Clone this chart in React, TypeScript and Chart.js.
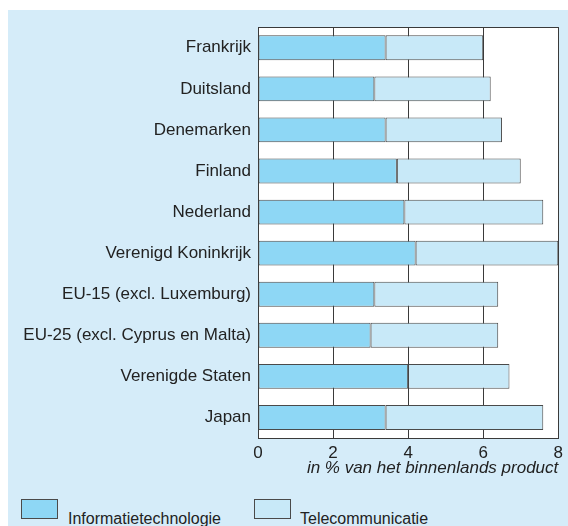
import React, { useEffect, useRef } from "react";
import { Chart, registerables } from "chart.js";

Chart.register(...registerables);

const categories = [
  "Frankrijk",
  "Duitsland",
  "Denemarken",
  "Finland",
  "Nederland",
  "Verenigd Koninkrijk",
  "EU-15 (excl. Luxemburg)",
  "EU-25 (excl. Cyprus en Malta)",
  "Verenigde Staten",
  "Japan",
];
const informatietechnologie = [3.4, 3.1, 3.4, 3.7, 3.9, 4.2, 3.1, 3.0, 4.0, 3.4];
const telecommunicatie = [2.6, 3.1, 3.1, 3.3, 3.7, 3.8, 3.3, 3.4, 2.7, 4.2];
const seriesNames = ["Informatietechnologie", "Telecommunicatie"];
const xTitle = "in % van het binnenlands product";

const IT_COLOR = "#8ed7f5";
const TEL_COLOR = "#c8e9f8";
const PANEL = "#d5ecf9";
const LINE = "#3a3a3a";
const FONT = "'Liberation Sans', Arial, Helvetica, sans-serif";

const framePlugin = {
  id: "frame",
  beforeDraw(chart: any) {
    const { ctx, chartArea: a } = chart;
    ctx.save();
    ctx.fillStyle = "#ffffff";
    ctx.fillRect(a.left, a.top, a.right - a.left, a.bottom - a.top);
    ctx.restore();
  },
  afterDraw(chart: any) {
    const { ctx, chartArea: a } = chart;
    ctx.save();
    ctx.strokeStyle = LINE;
    ctx.lineWidth = 1;
    ctx.beginPath();
    const y = Math.round(a.top) + 0.5;
    ctx.moveTo(a.left, y);
    ctx.lineTo(a.right + 0.5, y);
    ctx.stroke();
    ctx.restore();
  },
};

export default function App() {
  const ref = useRef<HTMLCanvasElement | null>(null);

  useEffect(() => {
    if (!ref.current) return;
    const chart = new Chart(ref.current, {
      type: "bar",
      data: {
        labels: categories,
        datasets: [
          {
            label: seriesNames[0],
            data: informatietechnologie,
            backgroundColor: IT_COLOR,
            borderColor: "#4a4a4a",
            borderWidth: 1,
            borderSkipped: false,
            categoryPercentage: 1,
            barPercentage: 0.605,
          },
          {
            label: seriesNames[1],
            data: telecommunicatie,
            backgroundColor: TEL_COLOR,
            borderColor: "#4a4a4a",
            borderWidth: 1,
            borderSkipped: false,
            categoryPercentage: 1,
            barPercentage: 0.605,
          },
        ],
      },
      options: {
        indexAxis: "y",
        responsive: false,
        animation: false,
        layout: { padding: { top: 15, right: 8, left: 0, bottom: 12 } },
        plugins: {
          legend: { display: false },
          tooltip: { enabled: false },
        },
        scales: {
          x: {
            stacked: true,
            min: 0,
            max: 8,
            ticks: {
              stepSize: 2,
              padding: 5,
              color: "#222",
              font: { family: FONT, size: 17 },
            },
            grid: { color: LINE, lineWidth: 1, drawTicks: false },
            border: { display: true, color: LINE, width: 1 },
            title: {
              display: true,
              text: xTitle,
              align: "end",
              color: "#222",
              padding: 0,
              font: { family: FONT, size: 17, style: "italic" },
            },
            afterFit(scale: any) {
              scale.height = 40;
            },
          },
          y: {
            stacked: true,
            ticks: {
              padding: 7,
              color: "#222",
              font: { family: FONT, size: 17 },
            },
            grid: { display: false, drawTicks: false },
            border: { display: true, color: LINE, width: 1 },
            afterFit(scale: any) {
              scale.width = 250;
            },
          },
        },
      },
      plugins: [framePlugin],
    });
    return () => chart.destroy();
  }, []);

  const legendText: React.CSSProperties = {
    position: "absolute",
    top: 501,
    fontFamily: FONT,
    fontSize: 16,
    lineHeight: "16px",
    color: "#222",
    whiteSpace: "nowrap",
  };
  const box: React.CSSProperties = {
    position: "absolute",
    top: 489,
    width: 35,
    height: 18,
    border: "1px solid #4a4a4a",
  };

  return (
    <div
      style={{
        position: "fixed",
        left: 8,
        top: 10,
        width: 560,
        height: 516,
        background: PANEL,
        overflow: "hidden",
      }}
    >
      <canvas
        ref={ref}
        width={560}
        height={480}
        style={{ position: "absolute", left: 0, top: 0, width: 560, height: 480 }}
      />
      <div style={{ ...box, left: 13, background: IT_COLOR }} />
      <div style={{ ...legendText, left: 60 }}>{seriesNames[0]}</div>
      <div style={{ ...box, left: 246, background: TEL_COLOR }} />
      <div style={{ ...legendText, left: 292 }}>{seriesNames[1]}</div>
    </div>
  );
}
